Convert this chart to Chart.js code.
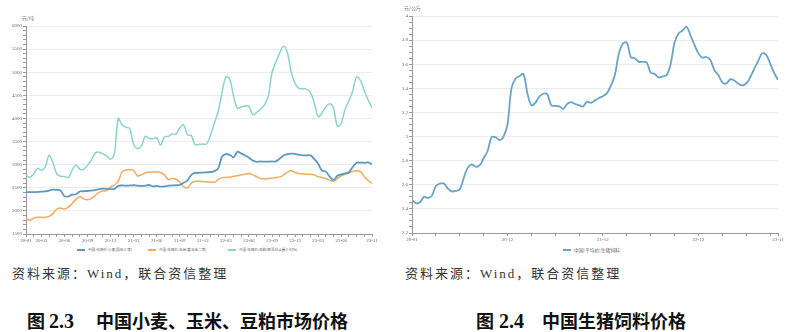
<!DOCTYPE html>
<html lang="zh-CN">
<head>
<meta charset="UTF-8">
<title>中国小麦、玉米、豆粕及生猪饲料价格</title>
<script src="https://cdn.jsdelivr.net/npm/chart.js"></script>
<style>
  body { margin: 0; background: #fff; width: 800px; height: 332px; position: relative; overflow: hidden;
         font-family: "Liberation Serif", "Noto Sans CJK SC", serif; }
  .box { position: absolute; top: 0; }
  .unit { position: absolute; font-size: 5px; color: #777; font-family: "Noto Sans CJK SC", sans-serif; }
  .key { position: absolute; height: 8px; line-height: 8px; color: #666; white-space: nowrap;
         font-family: "Noto Sans CJK SC", sans-serif; }
  .key i { position: absolute; left: 0; top: 3px; height: 1.5px; }
  .source { position: absolute; top: 265px; font-size: 13px; line-height: 18px; color: #333; letter-spacing: 2px; }
  .caption { position: absolute; top: 312px; font-size: 18px; line-height: 20px; font-weight: bold; color: #111; white-space: nowrap; }
  .caption span { position: absolute; top: 0; }
  .caption .num { font-size: 20px; top: -1px; }
</style>
</head>
<body>

<div class="box" style="left:0;width:385px;height:243px"><canvas id="grain-chart"></canvas></div>
<div class="box" style="left:395px;width:395px;height:242px"><canvas id="feed-chart"></canvas></div>

<div class="unit" style="left:22px;top:14px">元/吨</div>
<div class="unit" style="left:404px;top:4px">元/公斤</div>

<div id="grain-legend"></div>
<div id="feed-legend"></div>

<div class="source" style="left:12px">资料来源：Wind，联合资信整理</div>
<div class="source" style="left:405px">资料来源：Wind，联合资信整理</div>

<div class="caption" style="left:0;width:400px">
  <span style="left:27px">图</span><span class="num" style="left:49px">2.3</span><span style="left:96px">中国小麦、玉米、豆粕市场价格</span>
</div>
<div class="caption" style="left:400px;width:400px">
  <span style="left:76px">图</span><span class="num" style="left:99px">2.4</span><span style="left:142px">中国生猪饲料价格</span>
</div>

<script>
// half-month samples starting 2020-01
const wheatPrice = [
  2410, 2405, 2405, 2410, 2415, 2420, 2440, 2460, 2455, 2440,
  2320, 2310, 2350, 2360, 2420, 2425, 2430, 2440, 2450, 2470,
  2480, 2475, 2470, 2475, 2540, 2550, 2545, 2550, 2555, 2545,
  2540, 2545, 2560, 2530, 2540, 2525, 2530, 2545, 2550, 2555,
  2560, 2610, 2660, 2780, 2820, 2825, 2830, 2835, 2840, 2860,
  2920, 3180, 3230, 3210, 3160, 3280, 3240, 3200, 3150, 3090,
  3060, 3070, 3065, 3065, 3070, 3070, 3130, 3200, 3230, 3240,
  3235, 3210, 3200, 3200, 3200, 3120, 3020, 2870, 2850, 2740,
  2670, 2760, 2790, 2810, 2840, 2950, 3040, 3045, 3040, 3050,
  3010
];
const cornPrice = [
  1825, 1800, 1840, 1860, 1860, 1860, 1880, 1940, 2040, 2060,
  2040, 2080, 2160, 2250, 2310, 2260, 2240, 2270, 2330, 2400,
  2430, 2440, 2520, 2560, 2640, 2850, 2885, 2890, 2870, 2760,
  2780, 2820, 2835, 2840, 2840, 2830, 2780, 2680, 2700, 2690,
  2620, 2525, 2500, 2600, 2640, 2640, 2635, 2630, 2625, 2620,
  2680, 2720, 2725, 2730, 2750, 2760, 2780, 2790, 2810, 2780,
  2740, 2700, 2690, 2700, 2710, 2720, 2735, 2780, 2840, 2870,
  2830, 2810, 2800, 2795, 2790, 2780, 2740, 2720, 2700, 2660,
  2645, 2700, 2760, 2790, 2820, 2850, 2870, 2850, 2740, 2660,
  2590
];
const soymealPrice = [
  2775, 2730, 2800, 2920, 2880, 2950, 3200, 3050, 2800, 2750,
  2745, 2720, 2880, 2990, 2900, 2900, 2990, 3100, 3250, 3270,
  3230, 3190, 3120, 3250, 4000, 3860, 3810, 3780, 3430, 3350,
  3400, 3610, 3570, 3560, 3580, 3420, 3600, 3610, 3665, 3660,
  3800, 3860, 3645, 3630, 3430, 3440, 3445, 3450, 3640, 3900,
  4150, 4560, 4900, 4850, 4480, 4220, 4250, 4270, 4260, 4080,
  4130, 4200, 4290, 4475, 5000, 5220, 5420, 5560, 5420, 5000,
  4760, 4650, 4640, 4635, 4560, 4330, 4040, 4120, 4250, 4320,
  4220, 3830, 3900, 4200, 4380, 4600, 4900, 4820, 4600, 4400,
  4230
];
const feedPrice = [
  2.475, 2.448, 2.455, 2.50, 2.49, 2.51, 2.59, 2.61, 2.61, 2.57,
  2.545, 2.55, 2.56, 2.655, 2.74, 2.77, 2.75, 2.76, 2.82, 2.88,
  2.995, 2.995, 2.97, 3.0, 3.10, 3.40, 3.48, 3.50, 3.52, 3.36,
  3.26, 3.28, 3.33, 3.355, 3.35, 3.26, 3.255, 3.25, 3.23, 3.27,
  3.285, 3.27, 3.26, 3.25, 3.29, 3.28, 3.30, 3.32, 3.335, 3.36,
  3.42, 3.51, 3.69, 3.77, 3.78, 3.66, 3.65, 3.62, 3.62, 3.615,
  3.53, 3.52, 3.49, 3.50, 3.51, 3.60, 3.78, 3.855, 3.88, 3.91,
  3.84, 3.76, 3.69, 3.655, 3.66, 3.635, 3.55, 3.51, 3.45, 3.44,
  3.475, 3.465, 3.44, 3.425, 3.44, 3.49, 3.56, 3.625, 3.69, 3.68,
  3.61, 3.53, 3.47
];

// x axis positions are months since 2020-01
const grainTickMonths = [0, 2, 5, 8, 11, 14, 17, 20, 23, 26, 29, 32, 35, 38, 41, 45];
const grainTickLabels = ['20-01', '20-03', '20-06', '20-09', '20-12', '21-03', '21-06', '21-09',
                         '21-12', '22-03', '22-06', '22-09', '22-12', '23-03', '23-06', '23-11'];
const feedTickMonths = [0, 12, 24, 36, 46];
const feedTickLabels = ['20-01', '20-12', '21-12', '22-12', '23-11'];

const seriesNames = ['中国:市场价:小麦(国标三等)', '中国:市场价:玉米(黄玉米二等)', '中国:市场价:豆粕(粗蛋白含量≥43%)'];
const seriesColors = ['#5b98c2', '#f4a95e', '#8dd3cd'];
const feedName = '中国:平均价:生猪饲料';
const feedColor = '#6aa3c8';

const tickFont = { family: 'Liberation Serif', size: 5 };
const toPoints = vals => vals.map((v, i) => ({ x: i / 2, y: v }));

function xAxis(max, tickMonths, tickLabels, minorStep) {
  return {
    type: 'linear', min: 0, max: max,
    afterBuildTicks: axis => {
      const ticks = [];
      for (let m = 0; m < max; m += minorStep) ticks.push({ value: m });
      ticks.push({ value: max });
      axis.ticks = ticks;
    },
    afterFit: s => { s.height = 9; },
    ticks: {
      autoSkip: false, maxRotation: 0, padding: 1, font: tickFont, color: '#666',
      callback: v => { const i = tickMonths.indexOf(v); return i < 0 ? '' : tickLabels[i]; }
    },
    grid: { drawOnChartArea: false, tickLength: 3, color: '#999' },
    border: { color: '#999' }
  };
}

function yAxis(min, max, major, minor, width) {
  const isMajor = v => { const r = (v - min) / major; return Math.abs(r - Math.round(r)) < 1e-6; };
  return {
    min: min, max: max,
    afterBuildTicks: axis => {
      const ticks = [];
      const n = Math.round((max - min) / minor);
      for (let i = 0; i <= n; i++) ticks.push({ value: +(min + i * minor).toFixed(4) });
      axis.ticks = ticks;
    },
    afterFit: s => { s.width = width; },
    ticks: { autoSkip: false, font: tickFont, color: '#666', padding: 1,
             callback: v => isMajor(v) ? String(v) : '' },
    grid: { color: ctx => isMajor(ctx.tick.value) ? '#ececec' : 'rgba(0,0,0,0)',
            tickColor: '#999', tickLength: 3 },
    border: { color: '#999' }
  };
}

function line(label, vals, color, width) {
  return { label: label, data: toPoints(vals), borderColor: color, backgroundColor: color,
           borderWidth: width, pointRadius: 0, tension: 0.35 };
}

// legend rows under each chart: [left, swatch width, font size]
function legend(id, names, colors, lefts, top, size) {
  const box = document.getElementById(id);
  names.forEach((name, i) => {
    const key = document.createElement('div');
    key.className = 'key';
    key.style.cssText = `left:${lefts[i]}px;top:${top}px;font-size:${size}px;padding-left:11px`;
    key.innerHTML = `<i style="width:8px;background:${colors[i]}"></i>${name}`;
    box.appendChild(key);
  });
}
legend('grain-legend', seriesNames, seriesColors, [77, 148, 228], 246, 3.6);
legend('feed-legend', [feedName], [feedColor], [563], 246, 4.8);

const common = { responsive: true, maintainAspectRatio: false, animation: false };

new Chart(document.getElementById('grain-chart'), {
  type: 'line',
  data: {
    datasets: [
      line(seriesNames[0], wheatPrice, seriesColors[0], 1.8),
      line(seriesNames[1], cornPrice, seriesColors[1], 1.5),
      line(seriesNames[2], soymealPrice, seriesColors[2], 1.5)
    ]
  },
  options: Object.assign({}, common, {
    layout: { padding: { top: 26, right: 13, left: 0, bottom: 0 } },
    scales: {
      x: xAxis(45, grainTickMonths, grainTickLabels, 1),
      y: yAxis(1500, 6000, 500, 100, 26)
    },
    plugins: { legend: { display: false }, tooltip: { enabled: false } }
  })
});

new Chart(document.getElementById('feed-chart'), {
  type: 'line',
  data: { datasets: [line(feedName, feedPrice, feedColor, 1.8)] },
  options: Object.assign({}, common, {
    layout: { padding: { top: 16, right: 12, left: 0, bottom: 0 } },
    scales: {
      x: xAxis(46, feedTickMonths, feedTickLabels, 3),
      y: yAxis(2.2, 4, 0.2, 0.05, 17)
    },
    plugins: { legend: { display: false }, tooltip: { enabled: false } }
  })
});
</script>
</body>
</html>
